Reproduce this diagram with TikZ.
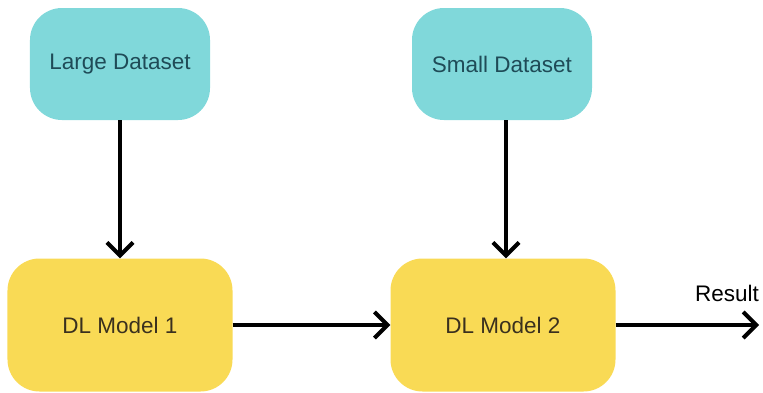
\documentclass[tikz,border=0pt]{standalone}
\usepackage{fontspec}
\setmainfont{Liberation Sans}
\usetikzlibrary{arrows.meta,positioning}
\definecolor{datacyan}{HTML}{80D8DA}
\definecolor{modelyellow}{HTML}{F9DA55}
\definecolor{datatext}{HTML}{1F4B57}
\definecolor{modeltext}{HTML}{3A301E}
\tikzset{
	datanode/.style={fill=datacyan,text=datatext,rounded corners=32bp,
		minimum width=180bp,minimum height=112bp},
	modelnode/.style={fill=modelyellow,text=modeltext,rounded corners=32bp,
		minimum width=225bp,minimum height=133bp},
	flow/.style={line width=4bp,-{Straight Barb[length=13bp,width=26bp]}}
}
\begin{document}
\begin{tikzpicture}[x=1bp,y=-1bp,
	font=\fontsize{22.5bp}{26bp}\selectfont]
	\useasboundingbox (0,0) rectangle (763,392);
	% data sources
	\node[datanode] (large) at (120,64) {Large Dataset};
	\node[datanode] (small) at (502,64) {Small Dataset};
	% models
	\node[modelnode] (dl1) at (120,325) {DL Model 1};
	\node[modelnode] (dl2) at (503,325) {DL Model 2};
	\coordinate (out) at (759,325);
	\draw[flow] (large)--(dl1);
	\draw[flow] (small.south -| 506,0)--(dl2.north -| 506,0);
	\draw[flow] (dl1)--(dl2);
	\draw[flow] (dl2)--(out);
	\node (result) at (727,293) {Result};
\end{tikzpicture}
\end{document}
